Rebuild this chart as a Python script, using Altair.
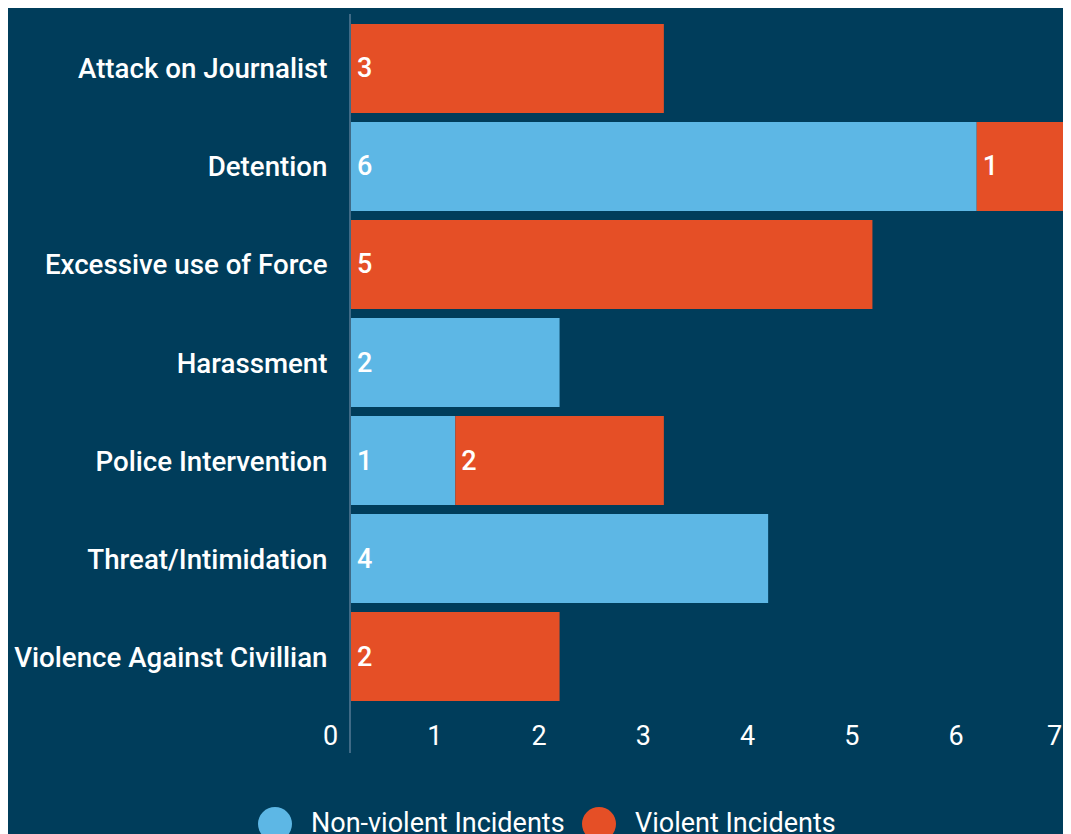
import altair as alt
import pandas as pd

categories = [
    "Attack on Journalist",
    "Detention",
    "Excessive use of Force",
    "Harassment",
    "Police Intervention",
    "Threat/Intimidation",
    "Violence Against Civillian",
]
non_violent = [0, 6, 0, 2, 1, 4, 0]
violent = [3, 1, 5, 0, 2, 0, 2]
series_names = ["Non-violent Incidents", "Violent Incidents"]
tick_values = [0, 1, 2, 3, 4, 5, 6, 7]

rows = []
for c, nv, v in zip(categories, non_violent, violent):
    rows.append({"category": c, "series": series_names[0], "order": 0, "value": nv})
    rows.append({"category": c, "series": series_names[1], "order": 1, "value": v})
df = pd.DataFrame(rows)

BG = "#003d5b"
BLUE = "#5db7e5"
ORANGE = "#e54f26"
FONT = "Roboto"

base = alt.Chart(df).transform_filter("datum.value > 0").transform_stack(
    stack="value", groupby=["category"], as_=["x0", "x1"], sort=[{"field": "order", "order": "ascending"}]
)

y_enc = alt.Y(
    "category:N",
    sort=categories,
    title=None,
    scale=alt.Scale(paddingInner=0.092, paddingOuter=0.102),
    axis=alt.Axis(
        domain=False,
        ticks=False,
        labelFontSize=27.7,
        labelFont=FONT,
        labelFontWeight=500,
        labelColor="#ffffff",
        labelPadding=24,
        labelOffset=2,
        labelLimit=600,
    ),
)

x_scale = alt.Scale(domain=[0, 7], nice=False, zero=True)

bars = base.mark_bar().encode(
    x=alt.X(
        "x0:Q",
        scale=x_scale,
        title=None,
        axis=alt.Axis(
            values=tick_values,
            format="d",
            domain=False,
            ticks=False,
            grid=False,
            labelFontSize=27,
            labelFont=FONT,
            labelColor="#ffffff",
            labelPadding=12,
            labelOffset={"condition": {"test": "datum.value == 7", "value": -27}, "value": -21},
            labelFlush=False,
            labelOverlap=False,
        ),
    ),
    x2="x1:Q",
    y=y_enc,
    color=alt.Color(
        "series:N",
        scale=alt.Scale(domain=series_names, range=[BLUE, ORANGE]),
        title=None,
        legend=alt.Legend(
            orient="none",
            legendX=-93,
            legendY=793,
            direction="horizontal",
            symbolType="circle",
            symbolSize=1156,
            symbolStrokeWidth=0,
            symbolOpacity=1,
            labelFontSize=27,
            labelFont=FONT,
            labelColor="#ffffff",
            labelOffset=19,
            columnPadding=17,
            padding=0,
            labelLimit=400,
        ),
    ),
)

labels = base.mark_text(
    align="left", baseline="middle", dx=6, dy=1, fontSize=27, font=FONT, fontWeight=500, color="#ffffff"
).encode(
    x=alt.X("x0:Q", scale=x_scale),
    y=alt.Y("category:N", sort=categories),
    text="value:Q",
)

axis_line = alt.Chart(df).mark_rule(color="#3f6a86", strokeWidth=2).encode(
    x=alt.value(-1), y=alt.value(0), y2=alt.value(739)
)

chart = (
    alt.layer(bars, labels, axis_line)
    .properties(
        width=730,
        height=697,
        background=BG,
        autosize=alt.AutoSizeParams(type="none"),
        padding={"left": 343, "top": 6, "right": -18, "bottom": 123},
    )
    .configure_view(stroke=None)
)

chart.save("out.html", embed_options={"renderer": "svg", "actions": False})
